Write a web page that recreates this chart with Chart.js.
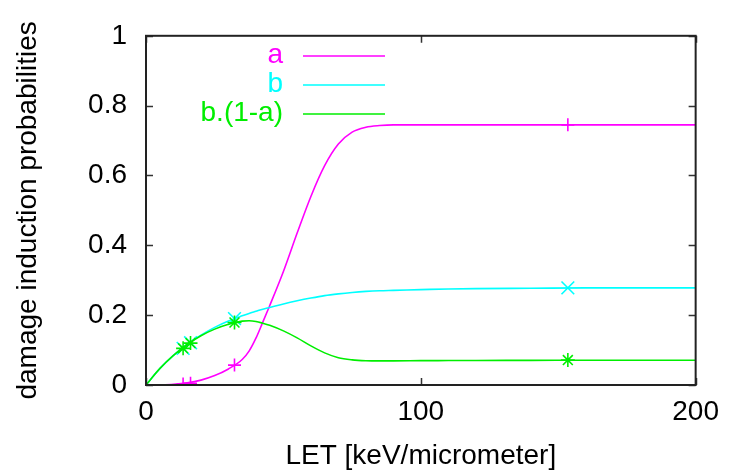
<!DOCTYPE html>
<html>
<head>
<meta charset="utf-8">
<title>damage induction probabilities</title>
<script src="https://cdn.jsdelivr.net/npm/chart.js@4/dist/chart.umd.min.js"></script>
<style>
  html, body { margin: 0; padding: 0; background: #fff; }
  #wrap { position: relative; width: 729px; height: 474px; }
</style>
</head>
<body>
<div id="wrap"><canvas id="damageChart"></canvas></div>
<script>
// LET values (keV/micrometer) where the model curves are sampled
const letGrid = [0, 5, 10, 15, 20, 25, 30, 35, 37.5, 40, 42.5, 45, 50, 55, 60, 65, 70, 75, 80, 85, 90,
                 100, 110, 120, 140, 160, 180, 200];
const probA = [0, 0.0005, 0.002, 0.006, 0.014, 0.027, 0.046, 0.073, 0.097, 0.134, 0.18, 0.227,
               0.325, 0.435, 0.54, 0.628, 0.69, 0.724, 0.738, 0.743, 0.745,
               0.745, 0.745, 0.745, 0.745, 0.745, 0.745, 0.745];
const probB = [0, 0.047, 0.085, 0.117, 0.143, 0.165, 0.183, 0.198, 0.205, 0.211, 0.217, 0.222,
               0.232, 0.241, 0.249, 0.256, 0.261, 0.265, 0.268, 0.27, 0.271,
               0.273, 0.275, 0.276, 0.277, 0.278, 0.278, 0.278];
const probBnotA = [0, 0.047, 0.085, 0.116, 0.141, 0.160, 0.174, 0.183, 0.184, 0.182, 0.177, 0.171,
                   0.155, 0.135, 0.112, 0.092, 0.078, 0.072, 0.0695, 0.069, 0.069,
                   0.0697, 0.070, 0.0703, 0.0706, 0.0708, 0.071, 0.071];

// measured points
const letMeasured = [13.5, 16.2, 32.2, 153.5];
const measuredA = [0.003, 0.005, 0.057, 0.745];
const measuredB = [0.105, 0.121, 0.19, 0.278];
const measuredBnotA = [0.105, 0.12, 0.179, 0.0714];

const xTicks = [0, 100, 200];
const yTicks = [0, 0.2, 0.4, 0.6, 0.8, 1];
const seriesLabels = ['a', 'b', 'b.(1-a)'];
const seriesColors = ['#ff00ff', '#00ffff', '#00ee00'];

const FONT = "'Liberation Sans', Arial, Helvetica, sans-serif";
Chart.defaults.font.family = FONT;
Chart.defaults.font.size = 28;
Chart.defaults.color = '#000';

const toXY = (xs, ys) => xs.map((x, i) => ({ x: x, y: ys[i] }));

function curve(i, ys) {
    return {
        label: seriesLabels[i],
        data: toXY(letGrid, ys),
        showLine: true,
        borderColor: seriesColors[i],
        borderWidth: 1.6,
        pointRadius: 0,
        cubicInterpolationMode: 'monotone',
        order: 10 - i * 2
    };
}

function marks(i, ys, style, radius) {
    return {
        label: seriesLabels[i] + ' points',
        data: toXY(letMeasured, ys),
        showLine: false,
        pointStyle: style,
        pointRadius: radius,
        pointBorderColor: seriesColors[i],
        pointBorderWidth: 1.6,
        pointBackgroundColor: seriesColors[i],
        order: 9 - i * 2
    };
}

// frame, inward ticks on all four sides and a gnuplot style key
const framePlugin = {
    id: 'framePlugin',
    afterDraw(chart) {
        const { ctx, chartArea: a, scales } = chart;
        const tl = 7;
        ctx.save();
        ctx.strokeStyle = '#333';
        ctx.lineWidth = 1.5;
        ctx.beginPath();
        yTicks.forEach(v => {
            const py = Math.round(scales.y.getPixelForValue(v)) + 0.5;
            ctx.moveTo(a.left, py); ctx.lineTo(a.left + tl, py);
            ctx.moveTo(a.right, py); ctx.lineTo(a.right - tl, py);
        });
        xTicks.forEach(v => {
            const px = Math.round(scales.x.getPixelForValue(v)) + 0.5;
            ctx.moveTo(px, a.bottom); ctx.lineTo(px, a.bottom - tl);
            ctx.moveTo(px, a.top); ctx.lineTo(px, a.top + tl);
        });
        ctx.stroke();
        ctx.lineWidth = 2;
        ctx.strokeStyle = '#222';
        ctx.strokeRect(a.left, a.top, a.right - a.left, a.bottom - a.top);

        // key
        ctx.font = '28px ' + FONT;
        ctx.textAlign = 'right';
        ctx.textBaseline = 'middle';
        seriesLabels.forEach((lab, i) => {
            const y = 56 + i * 29;
            ctx.fillStyle = seriesColors[i];
            ctx.fillText(lab, 283, y - 1);
            ctx.strokeStyle = seriesColors[i];
            ctx.lineWidth = 1.6;
            ctx.beginPath();
            ctx.moveTo(303, y);
            ctx.lineTo(385, y);
            ctx.stroke();
        });
        ctx.restore();
    }
};

new Chart(document.getElementById('damageChart'), {
    type: 'scatter',
    data: {
        datasets: [
            curve(0, probA), marks(0, measuredA, 'cross', 6.5),
            curve(1, probB), marks(1, measuredB, 'crossRot', 9),
            curve(2, probBnotA), marks(2, measuredBnotA, 'star', 7)
        ]
    },
    options: {
        responsive: true,
        maintainAspectRatio: false,
        animation: false,
        layout: { padding: { top: 35, right: 33, left: 0, bottom: 0 } },
        plugins: {
            legend: { display: false },
            tooltip: { enabled: false }
        },
        scales: {
            x: {
                type: 'linear',
                min: 0,
                max: 200,
                afterFit: s => { s.height = 89; },
                afterBuildTicks: s => { s.ticks = xTicks.map(v => ({ value: v })); },
                grid: { display: false, drawTicks: false },
                border: { display: false },
                ticks: { padding: 10, maxRotation: 0 },
                title: {
                    display: true,
                    text: 'LET [keV/micrometer]',
                    padding: { top: 0, bottom: 1 }
                }
            },
            y: {
                min: 0,
                max: 1,
                afterFit: s => { s.width = 146; },
                afterBuildTicks: s => { s.ticks = yTicks.map(v => ({ value: v })); },
                grid: { display: false, drawTicks: false },
                border: { display: false },
                ticks: { padding: 19, callback: v => String(v) },
                title: {
                    display: true,
                    text: 'damage induction probabilities',
                    padding: { top: 11, bottom: 0 }
                }
            }
        }
    },
    plugins: [framePlugin]
});
</script>
</body>
</html>
